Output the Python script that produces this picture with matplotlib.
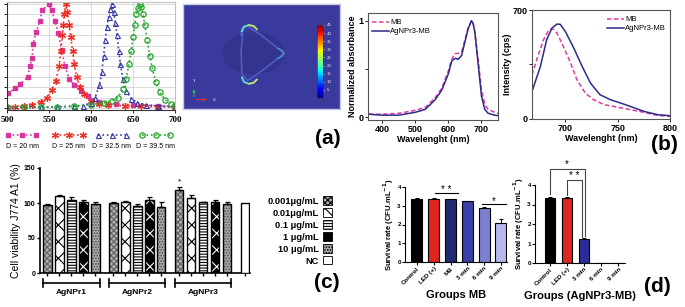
import numpy as np
import matplotlib
matplotlib.use("Agg")
import matplotlib.pyplot as plt
from matplotlib.patches import Patch
from matplotlib.transforms import blended_transform_factory as btf

plt.rcParams['font.family'] = ['Liberation Sans', 'DejaVu Sans']
plt.rcParams['hatch.linewidth'] = 0.8

# ---------------- data ----------------
# (a) extinction spectra
wl_20 = [501, 510, 516, 525, 527, 530, 531, 535, 539, 542, 550, 553, 557, 561, 565, 569, 574, 580, 588, 596, 610, 630, 650, 680, 700]
ab_20 = [0.14, 0.19, 0.23, 0.30, 0.40, 0.48, 0.62, 0.73, 0.84, 0.94, 1.0, 0.94, 0.84, 0.72, 0.56, 0.40, 0.28, 0.22, 0.16, 0.11, 0.06, 0.04, 0.03, 0.02, 0.015]
wl_25 = [500, 510, 520, 530, 540, 548, 553, 558, 562, 564, 566, 567, 568, 570, 572, 574, 576, 578, 580, 583, 587, 592, 600, 610, 620, 640, 660, 680, 700]
ab_25 = [0.01, 0.01, 0.02, 0.03, 0.06, 0.10, 0.17, 0.26, 0.40, 0.55, 0.70, 0.80, 0.90, 1.0, 0.92, 0.80, 0.68, 0.55, 0.42, 0.30, 0.20, 0.13, 0.07, 0.04, 0.03, 0.02, 0.015, 0.01, 0.01]
wl_32 = [500, 540, 560, 580, 590, 600, 605, 610, 613, 615, 617, 619, 621, 623, 625, 627, 629, 631, 633, 635, 638, 642, 648, 655, 665, 680, 700]
ab_32 = [0.0, 0.005, 0.01, 0.015, 0.02, 0.05, 0.10, 0.22, 0.35, 0.50, 0.65, 0.78, 0.88, 0.95, 1.0, 0.92, 0.82, 0.70, 0.55, 0.42, 0.28, 0.16, 0.09, 0.05, 0.03, 0.02, 0.01]
wl_39 = [500, 520, 540, 560, 580, 600, 615, 625, 632, 638, 642, 645, 648, 650, 652, 654, 656, 658, 660, 662, 664, 667, 670, 673, 677, 682, 688, 695, 700]
ab_39 = [0.01, 0.01, 0.01, 0.01, 0.02, 0.03, 0.05, 0.07, 0.10, 0.18, 0.28, 0.42, 0.55, 0.68, 0.80, 0.90, 0.96, 1.0, 0.97, 0.90, 0.80, 0.65, 0.50, 0.38, 0.25, 0.15, 0.08, 0.04, 0.03]
size_labels = ['D = 20 nm', 'D = 25 nm', 'D = 32.5 nm', 'D = 39.5 nm']
cbar_ticks = [5, 10, 15, 20, 25, 30, 35, 40, 45]

# (b) absorbance
abs_wl = [360, 400, 450, 500, 530, 560, 580, 600, 610, 620, 630, 640, 650, 660, 670, 675, 680, 690, 700, 710, 720, 740, 750]
abs_mb = [0.03, 0.03, 0.04, 0.07, 0.10, 0.20, 0.30, 0.48, 0.60, 0.66, 0.66, 0.68, 0.80, 0.93, 1.0, 0.97, 0.88, 0.60, 0.28, 0.13, 0.08, 0.05, 0.04]
abs_ag = [0.03, 0.02, 0.02, 0.05, 0.08, 0.18, 0.28, 0.45, 0.58, 0.61, 0.60, 0.64, 0.78, 0.92, 1.0, 0.97, 0.88, 0.55, 0.22, 0.08, 0.04, 0.02, 0.015]
# (b) fluorescence
fl_wl_ag = [668, 676, 682, 687, 692, 695, 700, 708, 716, 724, 733, 743, 753, 762, 775, 788, 800]
fl_ag = [177, 337, 508, 583, 610, 608, 561, 455, 337, 230, 156, 124, 102, 81, 49, 28, 21]
fl_wl_mb = [668, 673, 679, 684, 688, 692, 698, 705, 711, 719, 727, 737, 749, 762, 775, 788, 800]
fl_mb = [284, 390, 508, 572, 578, 551, 465, 358, 252, 166, 124, 92, 77, 60, 43, 23, 17]

# (c) cell viability
groups = ['AgNPr1', 'AgNPr2', 'AgNPr3']
conc_labels = ['0.001\u03bcg/mL', '0.01\u03bcg/mL', '0.1 \u03bcg/mL', '1 \u03bcg/mL', '10 \u03bcg/mL', 'NC']
viab = [[97, 110, 105, 102, 99],
        [100, 101, 96, 104, 95],
        [119, 107, 101, 101, 98]]
viab_err = [[2, 1, 3, 3, 3],
            [2, 2, 3, 5, 6],
            [4, 5, 1, 4, 3]]
nc_val = 100

# (d) survival
d1_labels = ['Control', 'LED (+)', 'MB', '3 min', '6 min', '9 min']
d1_vals = [3.35, 3.37, 3.35, 3.25, 2.9, 2.1]
d1_err = [0.04, 0.03, 0.03, 0.02, 0.03, 0.17]
d2_labels = ['Control', 'LED (+)', '3 min', '6 min', '9 min']
d2_vals = [3.35, 3.35, 1.22, 0, 0]
d2_err = [0.03, 0.03, 0.04, 0, 0]

# ---------------- figure ----------------
W, H = 685, 307
fig = plt.figure(figsize=(W / 100, H / 100), dpi=100)


def ax_px(l, t, r, b, **kw):
    return fig.add_axes([l / W, 1 - b / H, (r - l) / W, (b - t) / H], **kw)


def ftext(x, y, s, **kw):
    fig.text(x / W, 1 - y / H, s, **kw)


# ---- (a) spectra ----
a1 = ax_px(7, 2, 175, 110)
specs = [(wl_20, ab_20, '#d6359b', 's', dict(ms=2.8, mfc='#d6359b', mec='#d6359b')),
         (wl_25, ab_25, '#ec2e24', (6, 2, 0), dict(ms=5, mec='#ec2e24', mew=0.9)),
         (wl_32, ab_32, '#3538a8', '^', dict(ms=3.6, mfc='none', mec='#3538a8', mew=0.8)),
         (wl_39, ab_39, '#23a52a', 'o', dict(ms=3.8, mfc='none', mec='#23a52a', mew=0.9))]
for x, y, c, m, kw in specs:
    a1.plot(x, y, ls=':', lw=1.2, color=c, marker=m, **kw)
a1.set_xlim(500, 700)
a1.set_ylim(-0.02, 1.02)
a1.set_xticks([500, 550, 600, 650, 700])
a1.set_yticks(np.linspace(0, 1, 11))
a1.set_yticklabels([])
a1.grid(True, color='#d4d4d4', lw=0.6)
a1.set_axisbelow(True)
for s in ['top', 'right']:
    a1.spines[s].set_color('#c0c0c0')
for s in ['left', 'bottom']:
    a1.spines[s].set_color('#333333')
a1.tick_params(length=2, width=0.6, pad=2)
for lab in a1.get_xticklabels():
    lab.set_fontfamily('Liberation Serif')
    lab.set_fontweight('bold')
    lab.set_fontsize(6.5)

# legend for (a)
la = ax_px(0, 125, 180, 155)
la.set_xlim(0, 180)
la.set_ylim(155, 125)
la.axis('off')
centers = [22, 69, 112, 156]
for (x, y, c, m, kw), cx, lab in zip(specs, centers, size_labels):
    la.plot([cx - 14, cx, cx + 14], [135, 135, 135], ls=':', lw=1.2, color=c, marker=m, **kw)
    la.text(cx, 146, lab, fontsize=5, ha='center', va='center')

# ---- (a) field map ----
a2 = ax_px(183, 4, 340, 109)
a2.set_facecolor('#3a3a9c')
a2.set_xlim(0, 1)
a2.set_ylim(0, 1)
a2.set_xticks([])
a2.set_yticks([])
for s in a2.spines.values():
    s.set_color('#c8c8e6')
    s.set_linewidth(1)
a2.add_patch(plt.Circle((0.45, 0.53), 0.2, color='#34348f', lw=0))
a2.plot([0.38, 0.37, 0.375, 0.41, 0.5, 0.62, 0.64, 0.62, 0.5, 0.41, 0.375, 0.37, 0.38],
        [0.71, 0.55, 0.33, 0.27, 0.36, 0.50, 0.53, 0.56, 0.70, 0.79, 0.77, 0.7, 0.71],
        color='#4f63c8', lw=1.2, alpha=0.9)
a2.plot([0.375, 0.39, 0.42, 0.45, 0.47], [0.74, 0.785, 0.80, 0.79, 0.76], color='#60e0d0', lw=1.3)
a2.plot([0.42, 0.45, 0.47], [0.80, 0.79, 0.76], color='#d8e048', lw=1.0)
a2.plot([0.375, 0.39, 0.42, 0.45, 0.47], [0.30, 0.255, 0.24, 0.25, 0.28], color='#60e0d0', lw=1.3)
a2.plot([0.42, 0.45, 0.47], [0.24, 0.25, 0.28], color='#d8e048', lw=1.0)
a2.plot([0.6, 0.63, 0.645, 0.63, 0.6], [0.58, 0.56, 0.53, 0.50, 0.48], color='#4aa0d8', lw=0.8)
a2.annotate('', xy=(0.07, 0.215), xytext=(0.07, 0.09),
            arrowprops=dict(arrowstyle='-|>', color='#22c040', lw=0.7, mutation_scale=4))
a2.annotate('', xy=(0.17, 0.09), xytext=(0.065, 0.09),
            arrowprops=dict(arrowstyle='-|>', color='#e03030', lw=0.7, mutation_scale=4))
a2.text(0.075, 0.255, 'Y', fontsize=3, color='white', ha='center')
a2.text(0.19, 0.09, 'X', fontsize=3, color='white', va='center')
cb_ax = ax_px(317, 25, 323, 98)
grad = np.linspace(0, 45, 256).reshape(-1, 1)
cb_ax.imshow(grad, aspect='auto', cmap='jet', origin='lower', extent=[0, 1, 0, 45])
cb_ax.set_xticks([])
cb_ax.yaxis.tick_right()
cb_ax.set_yticks(cbar_ticks)
cb_ax.tick_params(axis='y', labelsize=3.2, length=1, pad=1.5, colors='#e8e8f0')
for s in cb_ax.spines.values():
    s.set_color('#303060')
    s.set_linewidth(0.5)
ftext(328, 138, '(a)', fontsize=15, fontweight='bold', ha='center', va='center')

# ---- (b) absorbance ----
b1 = ax_px(368, 13, 498, 120)
b1.plot(abs_wl, abs_mb, ls=(0, (3, 1.6)), color='#e03aa6', lw=1.1, label='MB')
b1.plot(abs_wl, abs_ag, color='#2b2b88', lw=1.1, label='AgNPr3-MB')
b1.set_xlim(357, 750)
b1.set_ylim(-0.03, 1.08)
b1.set_xticks([400, 500, 600, 700])
b1.set_yticks([0, 0.5, 1])
b1.set_yticklabels(['0', '', '1'])
b1.set_xlabel('Wavelenght (nm)', fontsize=6.5, fontweight='bold', labelpad=1)
b1.set_ylabel('Normalized absorbance', fontsize=6.5, fontweight='bold', labelpad=1)
b1.tick_params(labelsize=6.5, length=2, width=0.6, pad=1.5)
for lab in b1.get_xticklabels() + b1.get_yticklabels():
    lab.set_fontweight('bold')
for s in b1.spines.values():
    s.set_color('#555555')
    s.set_linewidth(0.8)
b1.legend(loc='upper left', fontsize=5.5, frameon=False, handlelength=2.2, handletextpad=0.2,
          labelspacing=0.2, borderaxespad=0.1, bbox_to_anchor=(0.0, 0.98))

b2 = ax_px(532, 10, 670, 119)
b2.plot(fl_wl_mb, fl_mb, ls=(0, (3, 1.6)), color='#e03aa6', lw=1.1, label='MB')
b2.plot(fl_wl_ag, fl_ag, color='#2b2b88', lw=1.1, label='AgNPr3-MB')
b2.set_xlim(668, 800)
b2.set_ylim(0, 700)
b2.set_xticks([700, 750, 800])
b2.set_yticks([0, 350, 700])
b2.set_yticklabels(['0', '', '700'])
b2.set_xlabel('Wavelenght (nm)', fontsize=6.5, fontweight='bold', labelpad=1)
b2.set_ylabel('Intensity (cps)', fontsize=6.5, fontweight='bold', labelpad=0)
b2.tick_params(labelsize=6.5, length=2, width=0.6, pad=1.5)
for lab in b2.get_xticklabels() + b2.get_yticklabels():
    lab.set_fontweight('bold')
for s in b2.spines.values():
    s.set_color('#555555')
    s.set_linewidth(0.8)
b2.legend(loc='upper right', fontsize=5.5, frameon=False, handlelength=2.2, handletextpad=0.2,
          labelspacing=0.2, borderaxespad=0.1, bbox_to_anchor=(1.0, 0.98))
ftext(664, 144, '(b)', fontsize=15, fontweight='bold', ha='center', va='center')

# ---- (c) viability ----
c = ax_px(40, 168, 250, 273)
styles = [dict(fc='#b0b0b0', hatch='xxxxxx', hc='#606060'),
          dict(fc='white', hatch='xx', hc='black'),
          dict(fc='white', hatch='------', hc='black'),
          dict(fc='black', hatch='xx', hc='white'),
          dict(fc='#a8a8a8', hatch='......', hc='#505050')]
bw = 0.7
xs_all = []
for g in range(3):
    for i in range(5):
        x = g * 5.5 + i
        xs_all.append(x)
        st = styles[i]
        c.bar(x, viab[g][i], width=bw, color=st['fc'], edgecolor=st['hc'], hatch=st['hatch'], lw=0, zorder=2)
        c.bar(x, viab[g][i], width=bw, fill=False, edgecolor='black', lw=1.0, zorder=3)
        c.errorbar(x, viab[g][i], yerr=[[0], [viab_err[g][i]]], color='black', capsize=1.8,
                   elinewidth=0.9, capthick=0.9, zorder=4)
nc_x = 16.5
xs_all.append(nc_x)
c.bar(nc_x, nc_val, width=bw, color='white', edgecolor='black', lw=1.0, zorder=3)
c.text(2 * 5.5, viab[2][0] + 11, '*', fontsize=6, ha='center', va='center')
c.set_xlim(-0.62, 16.9)
c.set_ylim(0, 150)
c.set_yticks([0, 50, 100, 150])
c.set_xticks(xs_all)
c.set_xticklabels([])
c.tick_params(axis='y', labelsize=5, length=2.5, width=1, pad=1)
c.tick_params(axis='x', length=2.5, width=1)
for lab in c.get_yticklabels():
    lab.set_fontweight('bold')
for s in ['top', 'right']:
    c.spines[s].set_visible(False)
for s in ['left', 'bottom']:
    c.spines[s].set_linewidth(1.2)
c.set_ylabel('Cell viability J774 A1 (%)', fontsize=7.5, labelpad=2)
tr = btf(c.transData, c.transAxes)
for g, name in enumerate(groups):
    x0, x1 = g * 5.5 - 0.35, g * 5.5 + 4.35
    c.plot([x0, x1], [-0.095, -0.095], color='black', lw=1.2, transform=tr, clip_on=False)
    for xe in (x0, x1):
        c.plot([xe, xe], [-0.06, -0.13], color='black', lw=1.2, transform=tr, clip_on=False)
    c.text(g * 5.5 + 2, -0.19, name, fontsize=6, fontweight='bold', ha='center', va='center',
           transform=tr)
handles = []
for st in styles:
    handles.append(Patch(facecolor=st['fc'], edgecolor='black', hatch=st['hatch'], lw=0.6))
handles.append(Patch(facecolor='white', edgecolor='black', lw=0.6))
leg = fig.legend(handles, conc_labels, loc='upper right', bbox_to_anchor=(340 / W, 1 - 188 / H),
                 frameon=False, markerfirst=False, fontsize=6.7, handlelength=0.9, handleheight=1.0,
                 handletextpad=0.5, labelspacing=0.28)
for t in leg.get_texts():
    t.set_fontweight('bold')
ftext(327, 283, '(c)', fontsize=15, fontweight='bold', ha='center', va='center')

# ---- (d) survival, MB ----
d1_colors = ['#000000', '#e0271f', '#1f2b6e', '#3a3ea8', '#7c80d0', '#b8b8ec']
d1 = ax_px(405, 187, 507, 262)
xd1 = np.arange(len(d1_vals))
d1.bar(xd1, d1_vals, width=0.65, color=d1_colors, edgecolor='black', lw=0.8, zorder=2)
d1.errorbar(xd1, d1_vals, yerr=[np.zeros(len(d1_err)), d1_err], fmt='none', ecolor='black',
            capsize=1.5, elinewidth=0.7, capthick=0.7, zorder=3)
d1.set_xlim(-0.71, 5.36)
d1.set_ylim(0, 4)
d1.set_yticks([0, 1, 2, 3, 4])
d1.set_xticks(xd1)
d1.set_xticklabels(d1_labels, rotation=45, ha='right', rotation_mode='anchor')
d1.tick_params(labelsize=4.5, length=2, width=0.8, pad=1)
for lab in d1.get_xticklabels() + d1.get_yticklabels():
    lab.set_fontweight('bold')
for s in ['top', 'right']:
    d1.spines[s].set_visible(False)
d1.set_ylabel('Survival rate (CFU.mL$^{\\mathbf{-1}}$)', fontsize=5.5, fontweight='bold', labelpad=1)
d1.set_xlabel('Groups MB', fontsize=8, fontweight='bold', labelpad=3)
d1.plot([1.05, 2.45], [3.68, 3.68], color='black', lw=0.8, clip_on=False)
d1.text(1.75, 3.84, '* *', fontsize=7, ha='center', va='center')
d1.plot([3.9, 5.3], [3.1, 3.1], color='black', lw=0.8, clip_on=False)
d1.text(4.6, 3.27, '*', fontsize=7, ha='center', va='center')

# ---- (d) survival, AgNPr3-MB ----
d2_colors = ['#000000', '#dc2a22', '#2c2c99', '#2c2c99', '#2c2c99']
d2 = ax_px(535, 185, 625, 263)
xd2 = np.arange(len(d2_vals))
d2.bar(xd2, d2_vals, width=0.6, color=d2_colors, edgecolor='black', lw=0.8, zorder=2)
d2.errorbar(xd2[:3], d2_vals[:3], yerr=[np.zeros(3), d2_err[:3]], fmt='none', ecolor='black',
            capsize=1.5, elinewidth=0.7, capthick=0.7, zorder=3)
d2.set_xlim(-0.88, 4.4)
d2.set_ylim(0, 4)
d2.set_yticks([0, 1, 2, 3, 4])
d2.set_xticks(xd2)
d2.set_xticklabels(d2_labels, rotation=45, ha='right', rotation_mode='anchor')
d2.tick_params(labelsize=4.5, length=2, width=0.8, pad=1)
for lab in d2.get_xticklabels() + d2.get_yticklabels():
    lab.set_fontweight('bold')
for s in ['top', 'right']:
    d2.spines[s].set_visible(False)
d2.set_ylabel('Survival rate (CFU.mL$^{\\mathbf{-1}}$)', fontsize=5.5, fontweight='bold', labelpad=1)
d2.set_xlabel('Groups (AgNPr3-MB)', fontsize=8, fontweight='bold', labelpad=3)
d2.plot([0, 0, 2.05, 2.05], [3.55, 4.82, 4.82, 1.4], color='#444444', lw=0.8, clip_on=False)
d2.text(1.0, 5.05, '*', fontsize=7, ha='center', va='center')
d2.plot([1, 1, 1.9, 1.9], [3.5, 4.26, 4.26, 1.35], color='#444444', lw=0.8, clip_on=False)
d2.text(1.45, 4.48, '* *', fontsize=7, ha='center', va='center')
ftext(657, 287, '(d)', fontsize=15, fontweight='bold', ha='center', va='center')

fig.savefig('out.png', dpi=100)
